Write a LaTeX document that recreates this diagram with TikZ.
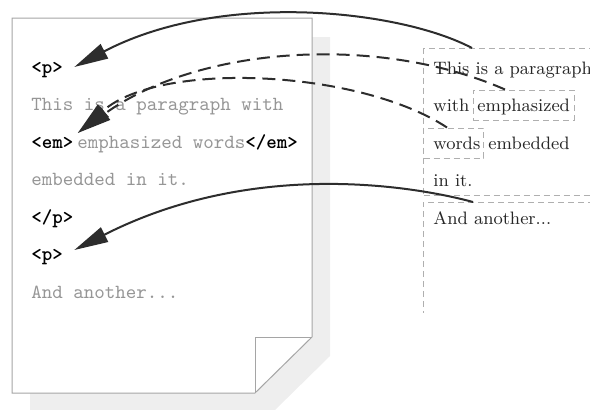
\documentclass[tikz,border=0pt]{standalone}
\usetikzlibrary{arrows.meta}
\definecolor{pageline}{RGB}{165,165,165}
\definecolor{shadowgray}{RGB}{238,238,238}
\definecolor{codegray}{RGB}{150,150,150}
\definecolor{boxgray}{RGB}{175,175,175}
\definecolor{linkcolor}{RGB}{45,45,45}

\begin{document}
\begin{tikzpicture}[x=0.5pt, y=-0.5pt, >={Triangle[length=17pt,width=8pt]}]
  % Styles
  \tikzset{
    code/.style={anchor=base west,inner sep=0pt,text=codegray,font=\ttfamily\fontsize{10}{12}\selectfont},
    tag/.style={anchor=base west,inner sep=0pt,text=black,font=\ttfamily\bfseries\fontsize{10}{12}\selectfont},
    prose/.style={anchor=base west,inner sep=0pt,text=black!85,font=\fontsize{9}{11}\selectfont},
    boxline/.style={draw=boxgray,line width=0.5pt,dash pattern=on 3pt off 2pt},
    dashbox/.style={boxline,inner sep=0pt,anchor=north west},
    link/.style={->,line width=1pt,draw=linkcolor},
    linkdash/.style={link,dash pattern=on 6.5pt off 3.5pt}
  }
  \useasboundingbox (0,0) rectangle (590,409);
  \clip (0,0) rectangle (590,409);

  %================= SOURCE PAGE =================
  \fill[shadowgray] (30,37) -- (330,37) -- (330,356) -- (273,412) -- (30,412) -- cycle;
  \filldraw[fill=white,draw=pageline,line width=0.5pt]
    (12,18) -- (312,18) -- (312,337) -- (255,393) -- (12,393) -- cycle;
  \draw[pageline,line width=0.5pt] (312,337) -- (255,337) -- (255,393);

  \node[tag]  (pOpenA)  at (31,73)    {<p>};
  \node[code] (txtA)    at (31,110.5) {This is a paragraph with};
  \node[tag]  (emOpen)  at (31,148)   {<em>};
  \node[code] (txtB)    at (77,148)   {emphasized words};
  \node[tag]  (emClose) at (245,148)  {</em>};
  \node[code] (txtC)    at (31,185.5) {embedded in it.};
  \node[tag]  (pClose)  at (31,223)   {</p>};
  \node[tag]  (pOpenB)  at (31,260.5) {<p>};
  \node[code] (txtD)    at (31,298)   {And another...};

  %================= RENDERED BOXES =================
  \node[dashbox,minimum width=108.5pt,minimum height=73.5pt] (paraA) at (423,48) {};
  \node[inner sep=0pt,anchor=north west,minimum width=110pt,minimum height=55pt] (paraB) at (423,202) {};
  \draw[boxline] (paraB.north east) -| (paraB.south west);
  \node[dashbox,minimum width=50.5pt,minimum height=15pt] (emphBox) at (472.5,89.5) {};
  \node[dashbox,minimum width=30pt,minimum height=15pt] (wordsBox) at (423,127.5) {};

  \node[prose] (rA)     at (433,74)    {This is a paragraph};
  \node[prose] (rB)     at (433,111.5) {with};
  \node[prose] (rEmph)  at (477,111.5) {emphasized};
  \node[prose] (rWords) at (433,149)   {words};
  \node[prose] (rC)     at (488,149)   {embedded};
  \node[prose] (rD)     at (433,186.5) {in it.};
  \node[prose] (rE)     at (433,224)   {And another...};

  %================= LINKS BACK TO THE SOURCE =================
  \draw[link] ([shift={(49,0)}]paraA.north west)
    .. controls +(-72,-38) and +(147,-77) .. ([shift={(11,-6)}]pOpenA.base east);
  \draw[link] ([shift={(50,0)}]paraB.north west)
    .. controls +(-63,-17) and +(177,-90) .. ([shift={(11,-10.5)}]pOpenB.base east);
  % dashed ones for the inline boxes
  \draw[linkdash] ([shift={(32.5,0)}]emphBox.north west)
    .. controls +(-125,-55) and +(123,-88) .. ([shift={(4,-15)}]emOpen.base east);
  \draw[linkdash] ([shift={(24,0)}]wordsBox.north west)
    .. controls +(-87,-57.5) and +(83,-73) .. ([shift={(4,-15)}]emOpen.base east);

\end{tikzpicture}
\end{document}
